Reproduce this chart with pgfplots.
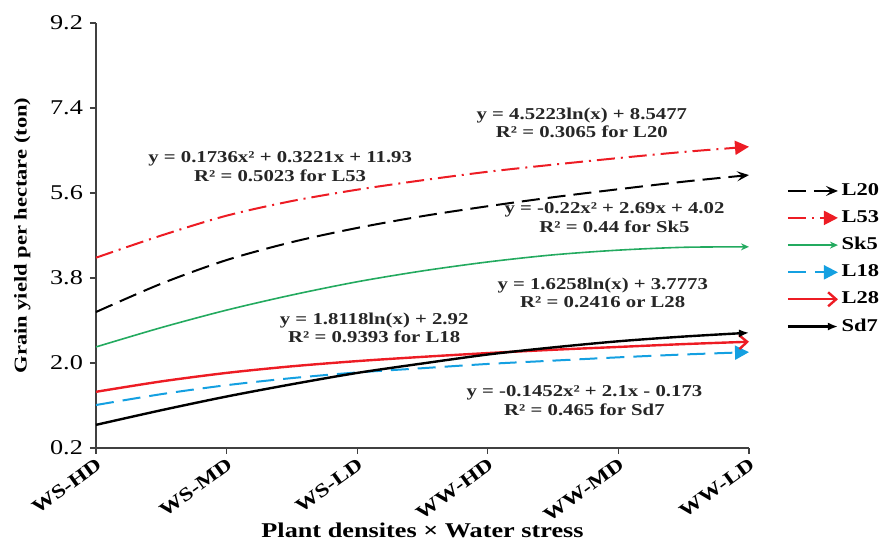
\documentclass[border=0pt]{standalone}
\usepackage{fontspec}
\setmainfont{Liberation Serif}[FakeStretch=1.25]
\usepackage{pgfplots}
\pgfplotsset{compat=1.18}
\usetikzlibrary{arrows.meta}

\definecolor{lred}{RGB}{237,28,36}
\definecolor{lgreen}{RGB}{35,170,95}
\definecolor{lblue}{RGB}{20,160,225}

\begin{document}
\begin{tikzpicture}
\begin{axis}[name=ax, scale only axis, width=326.5pt, height=212.5pt,
 xmin=0, xmax=5, ymin=0.2, ymax=9.2,
 xtick={0,...,5}, xticklabels={WS-HD,WS-MD,WS-LD,WW-HD,WW-MD,WW-LD},
 ytick={0.2,2.0,3.8,5.6,7.4,9.2}, yticklabels={0.2,2.0,3.8,5.6,7.4,9.2},
 axis x line*=bottom, axis y line*=left,
 axis line style={black!75, line width=0.8pt},
 tick align=outside, major tick length=3pt, tick style={black!75, line width=0.6pt},
 x tick label style={font=\fontsize{9.5}{10}\selectfont\bfseries, rotate=36, anchor=north east, inner sep=1pt},
 y tick label style={font=\fontsize{10.5}{11}\selectfont},
 xlabel={Plant densites × Water stress}, ylabel={Grain yield per hectare (ton)},
 xlabel style={font=\fontsize{10.5}{11}\selectfont\bfseries,
   at={(axis description cs:0.5,0)}, anchor=center, yshift=-41pt},
 ylabel style={font=\fontsize{9}{10}\selectfont\bfseries, yshift=3pt},
 clip=false,
 legend style={at={(1.048,0.445)}, anchor=west, draw=none, fill=none,
   font=\fontsize{9}{9}\selectfont\bfseries, row sep=3.6pt,
   nodes={inner sep=1.2pt}},
 legend cell align=left,
 legend image code/.code={\draw[#1] (0pt,0pt) -- (25pt,0pt);},
 every axis plot/.append style={smooth, mark=none}]

% values every half step
\addplot[black, line width=1pt, dash pattern=on 9pt off 4pt, -{Stealth[length=6pt,width=5pt,inset=2.5pt]}]
 coordinates {(0,3.08) (0.5,3.68) (1,4.18) (1.5,4.56) (2,4.86) (2.5,5.11) (3,5.32) (3.5,5.51) (4,5.68) (4.5,5.84) (5,5.98)};
\addplot[lred, line width=1pt, dash pattern=on 9pt off 3pt on 1pt off 3pt, -{Triangle[length=7pt,width=7pt]}]
 coordinates {(0,4.23) (0.5,4.70) (1,5.12) (1.5,5.43) (2,5.67) (2.5,5.87) (3,6.05) (3.5,6.20) (4,6.34) (4.5,6.47) (5,6.58)};
\addplot[lgreen, line width=0.8pt, -{Stealth[length=4pt,width=3.5pt]}]
 coordinates {(0,2.34) (0.5,2.75) (1,3.12) (1.5,3.44) (2,3.72) (2.5,3.95) (3,4.14) (3.5,4.29) (4,4.39) (4.5,4.45) (5,4.46)};
\addplot[lblue, line width=1pt, dash pattern=on 9pt off 4.5pt, -{Triangle[length=7pt,width=7pt]}]
 coordinates {(0,1.11) (0.5,1.34) (1,1.53) (1.5,1.68) (2,1.80) (2.5,1.89) (3,1.98) (3.5,2.05) (4,2.12) (4.5,2.18) (5,2.23)};
\addplot[lred, line width=1.2pt, -{Straight Barb[length=4pt,width=7pt]}]
 coordinates {(0,1.39) (0.5,1.61) (1,1.79) (1.5,1.93) (2,2.04) (2.5,2.13) (3,2.21) (3.5,2.28) (4,2.34) (4.5,2.40) (5,2.45)};
\addplot[black, line width=1.2pt, -{Latex[length=5pt,width=4pt]}]
 coordinates {(0,0.69) (0.5,1.00) (1,1.29) (1.5,1.55) (2,1.79) (2.5,1.99) (3,2.18) (3.5,2.33) (4,2.46) (4.5,2.56) (5,2.64)};
\legend{L20,L53,Sk5,L18,L28,Sd7}

\begin{scope}[every node/.style={font=\fontsize{8.3}{9.2}\selectfont\bfseries, align=center, text=black!85, inner sep=0pt}]
\node at (axis cs:3.72,7.09) {y = 4.5223ln(x) + 8.5477\\R² = 0.3065 for L20};
\node at (axis cs:1.41,6.16) {y = 0.1736x² + 0.3221x + 11.93\\R² = 0.5023 for L53};
\node at (axis cs:3.97,5.08) {y = -0.22x² + 2.69x + 4.02\\R² = 0.44 for Sk5};
\node at (axis cs:3.88,3.48) {y = 1.6258ln(x) + 3.7773\\R² = 0.2416 or L28};
\node at (axis cs:2.13,2.75) {y = 1.8118ln(x) + 2.92\\R² = 0.9393 for L18};
\node at (axis cs:3.74,1.20) {y = -0.1452x² + 2.1x - 0.173\\R² = 0.465 for Sd7};
\end{scope}
\end{axis}
\pgfresetboundingbox
\path (ax.south west) ++(-48pt,-48pt) rectangle ++(442pt,272pt);
\end{tikzpicture}
\end{document}
